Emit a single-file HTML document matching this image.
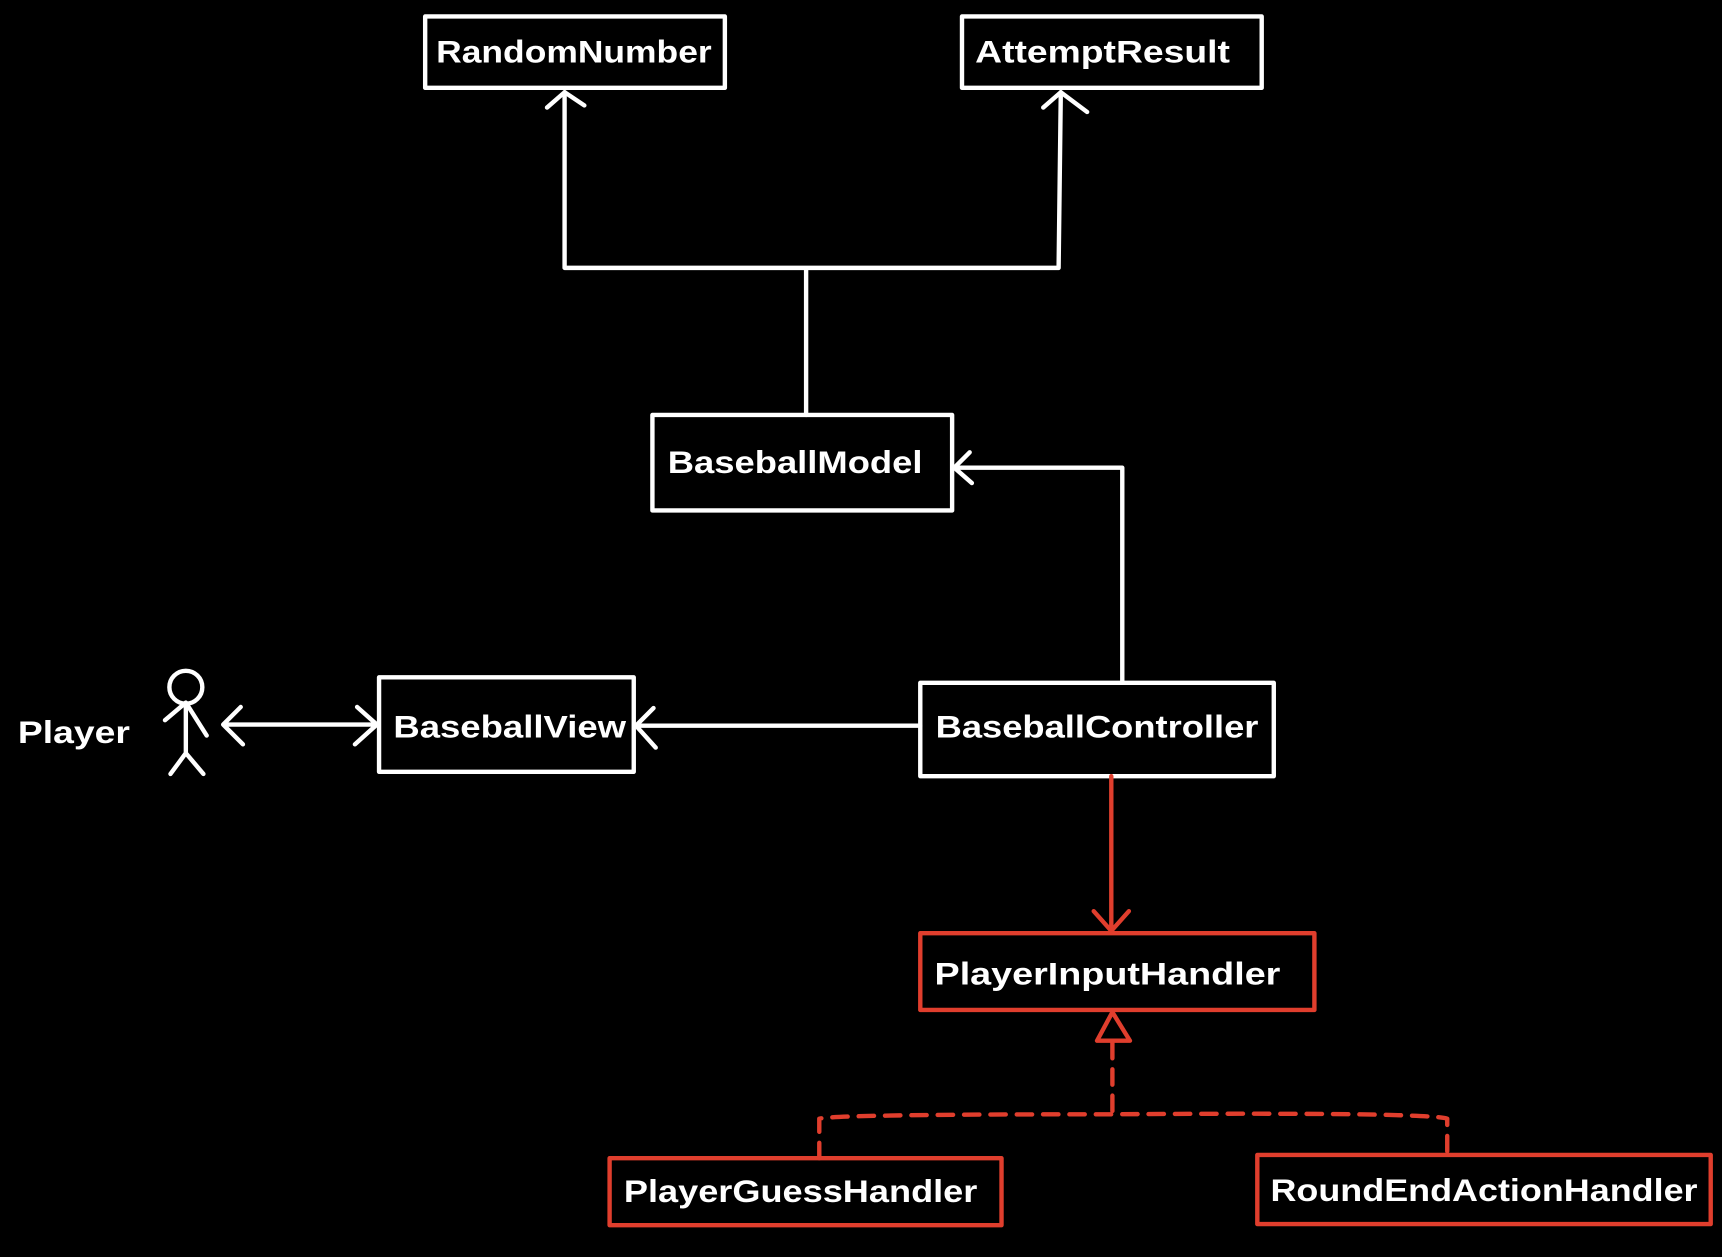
<!DOCTYPE html>
<html><head><meta charset="utf-8"><style>
html,body{margin:0;padding:0;background:#000;}
svg{display:block;}
text{font-family:"Liberation Sans",sans-serif;font-weight:bold;font-size:29px;fill:#fff;}
</style></head><body>
<svg width="1722" height="1257" viewBox="0 0 1568 1145" xmlns="http://www.w3.org/2000/svg">
<g fill="none" stroke="#fff" stroke-width="4" stroke-linecap="round" stroke-linejoin="round">
<rect x="387" y="15" width="273" height="65"/>
<rect x="876" y="15" width="273" height="65"/>
<rect x="594" y="378" width="273" height="87"/>
<rect x="345" y="617" width="232" height="86"/>
<rect x="838" y="622" width="322" height="85"/>
<path d="M734 378 V244 M514 244 H964 M514 244 V84 M964 244 L966 84"/>
<path d="M498 98 L514 84 L532 96 M950 98 L966 84 L990 102"/>
<path d="M1022 622 V426 H869 M883 412 L869 426 L885 440"/>
<path d="M838 661 H579 M595 645 L579 661 L597 681"/>
<path d="M203 660 H343 M325 644 L343 660 L323 678 M219 644 L203 660 L221 678"/>
<circle cx="169" cy="626" r="15"/>
<path d="M169 641 V686 M150 656 L169 640 L188 670 M169 686 L155 705 M169 686 L185 705"/>
</g>
<g fill="none" stroke="#e03e2d" stroke-width="4" stroke-linecap="round" stroke-linejoin="round">
<rect x="838" y="850" width="359" height="70"/>
<rect x="555" y="1055" width="357" height="61"/>
<rect x="1145" y="1052" width="413" height="63"/>
<path d="M1012 707 V846 M996 830 L1012 848 L1028 830"/>
<path d="M1013 922 L999 948 H1029 Z"/>
<path d="M1013 950 V1015 M746 1055 V1019 Q760 1015 1013 1015 Q1300 1013 1318 1019 V1055" stroke-dasharray="14 10"/>
</g>
<text x="397" y="57" textLength="251" lengthAdjust="spacingAndGlyphs">RandomNumber</text>
<text x="888" y="57" textLength="232" lengthAdjust="spacingAndGlyphs">AttemptResult</text>
<text x="608" y="431" textLength="232" lengthAdjust="spacingAndGlyphs">BaseballModel</text>
<text x="358" y="672" textLength="212" lengthAdjust="spacingAndGlyphs">BaseballView</text>
<text x="852" y="672" textLength="294" lengthAdjust="spacingAndGlyphs">BaseballController</text>
<text x="16" y="677" textLength="102" lengthAdjust="spacingAndGlyphs">Player</text>
<text x="851" y="897" textLength="315" lengthAdjust="spacingAndGlyphs">PlayerInputHandler</text>
<text x="568" y="1095" textLength="322" lengthAdjust="spacingAndGlyphs">PlayerGuessHandler</text>
<text x="1157" y="1094" textLength="389" lengthAdjust="spacingAndGlyphs">RoundEndActionHandler</text>
</svg>
</body></html>
